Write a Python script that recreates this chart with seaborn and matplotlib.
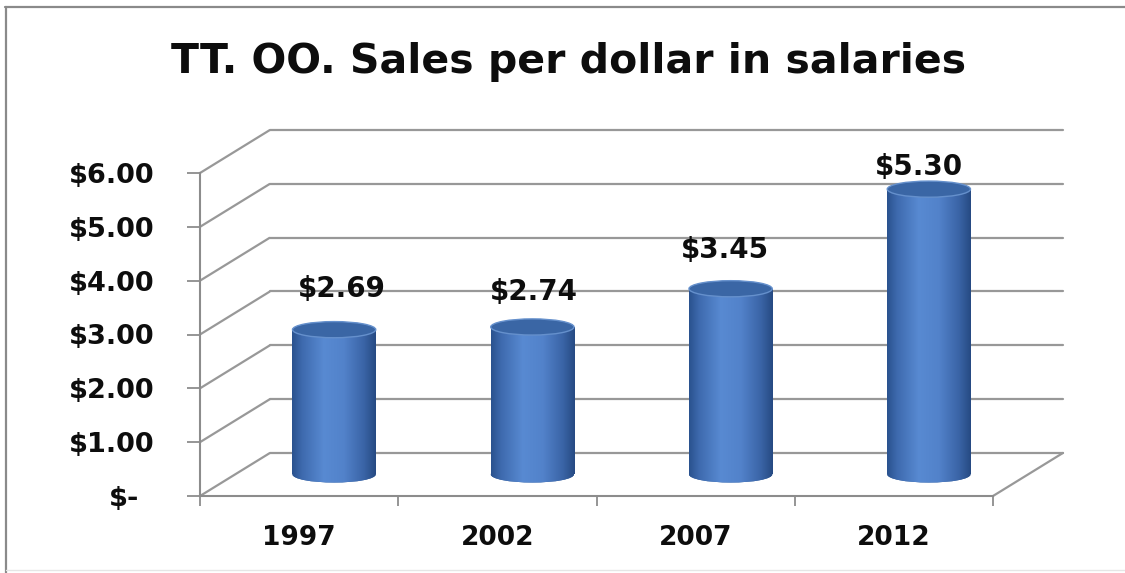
import numpy as np
import pandas as pd
import matplotlib
matplotlib.use("Agg")
import matplotlib.pyplot as plt
import matplotlib.transforms as mtransforms
from matplotlib.patches import Ellipse
from matplotlib.lines import Line2D
import seaborn as sns

# ---- data ----
years = ["1997", "2002", "2007", "2012"]
sales_per_dollar = [2.69, 2.74, 3.45, 5.30]
y_ticks = [0, 1, 2, 3, 4, 5, 6]
y_tick_labels = ["$-", "$1.00", "$2.00", "$3.00", "$4.00", "$5.00", "$6.00"]
title = "TT. OO. Sales per dollar in salaries"

# ---- style ----
sns.set_style("white")
plt.rcParams["font.family"] = ["DejaVu Sans"]
plt.rcParams["font.weight"] = "bold"
plt.rcParams["text.color"] = "#0d0d0d"
plt.rcParams["xtick.color"] = "#0d0d0d"
plt.rcParams["ytick.color"] = "#0d0d0d"

GRID = "#989898"
AXIS = "#8c8c8c"
W, H, DPI = 1125, 573, 100

fig = plt.figure(figsize=(W / DPI, H / DPI), dpi=DPI)
fig.patch.set_facecolor("white")
ax = fig.add_axes([200 / W, 77 / H, 793 / W, 323 / H])

df = pd.DataFrame({"year": years, "value": sales_per_dollar})
BAR_W = 0.42
sns.barplot(data=df, x="year", y="value", order=years, color="#3f6fb0",
            saturation=1, width=BAR_W, ax=ax, zorder=3)
bars = list(ax.patches)

X_LO, X_HI = -0.5, 3.5
Y_LO, Y_HI = y_ticks[0], y_ticks[-1]

# oblique depth of the 3-D box (in data units) and the plane holding the cylinders
DEPTH_X, DEPTH_Y = 0.353, 0.8
mid = mtransforms.Affine2D().translate(DEPTH_X / 2, DEPTH_Y / 2) + ax.transData
ELL_H = 0.30  # apparent height of the cylinder caps

# side wall, floor and back wall lines
for v in y_ticks:
    ax.plot([X_LO, X_LO + DEPTH_X], [v, v + DEPTH_Y], color=GRID, lw=1.6,
            clip_on=False, zorder=1, solid_capstyle="butt")
    ax.plot([X_LO + DEPTH_X, X_HI + DEPTH_X], [v + DEPTH_Y, v + DEPTH_Y],
            color=GRID, lw=1.6, clip_on=False, zorder=1)
ax.plot([X_HI, X_HI + DEPTH_X], [Y_LO, Y_LO + DEPTH_Y], color=GRID, lw=1.6,
        clip_on=False, zorder=1)

# cylinder shading across the width
stops = np.array([0.0, 0.12, 0.38, 0.62, 0.86, 1.0])
cols = np.array([[42, 82, 142], [62, 106, 174], [88, 138, 210],
                 [82, 130, 202], [58, 100, 166], [38, 74, 130]]) / 255.0
t = np.linspace(0, 1, 256)
grad = np.stack([np.interp(t, stops, cols[:, k]) for k in range(3)], axis=-1)[None, :, :]

for bar in bars:
    bar.set_transform(mid)
    bar.set_edgecolor("none")
    x0, w, h = bar.get_x(), bar.get_width(), bar.get_height()
    cx = x0 + w / 2
    base = Ellipse((cx, 0), w, ELL_H, transform=mid, facecolor="#2f5d9c",
                   edgecolor="none", zorder=3)
    ax.add_patch(base)
    for clip in (bar, base):
        im = ax.imshow(grad, extent=[x0, x0 + w, -ELL_H, h], transform=mid,
                       aspect="auto", interpolation="bilinear", zorder=3.1)
        im.set_clip_path(clip)
    cap = Ellipse((cx, h), w, ELL_H, transform=mid, facecolor="#3a66a5",
                  edgecolor="#6590cc", lw=1.0, zorder=3.5)
    ax.add_patch(cap)

# value labels above the cylinders (pixel shifts from the cap centre)
label_shift_px = [(8, 41), (2, 35), (-6, 39), (-10, 22)]
for bar, v, (sx, sy) in zip(bars, sales_per_dollar, label_shift_px):
    cx = bar.get_x() + bar.get_width() / 2
    tr = mid + mtransforms.ScaledTranslation(sx / DPI, sy / DPI, fig.dpi_scale_trans)
    ax.text(cx, v, f"${v:.2f}", transform=tr, ha="center", va="center",
            fontsize=20, fontweight="bold", zorder=5)

# axes
ax.set_xlim(X_LO, X_HI)
ax.set_ylim(Y_LO, Y_HI)
ax.set_xlabel("")
ax.set_ylabel("")
for side in ("top", "right"):
    ax.spines[side].set_visible(False)
for side in ("left", "bottom"):
    ax.spines[side].set_color(AXIS)
    ax.spines[side].set_linewidth(1.5)

ax.set_yticks(y_ticks)
ax.set_yticklabels(y_tick_labels)
ax.tick_params(axis="y", left=True, direction="out", length=9.5, width=1.3,
               color=AXIS, pad=23.5, labelsize=19.5)

ax.set_xticks(range(len(years)))
ax.set_xticklabels(years)
ax.set_xticks(np.arange(X_LO, X_HI + 0.01, 1.0), minor=True)
ax.tick_params(axis="x", which="major", bottom=True, length=0, pad=21, labelsize=19)
ax.tick_params(axis="x", which="minor", bottom=True, direction="out", length=7,
               width=1.3, color=AXIS)

# the "$-" label sits a little further left
zero_lbl = ax.get_yticklabels()[0]
zero_lbl.set_transform(zero_lbl.get_transform()
                       + mtransforms.ScaledTranslation(-15 / DPI, 0, fig.dpi_scale_trans))

fig.text(569 / W, (H - 73) / H, title, ha="center", va="baseline",
         fontsize=29.5, fontweight="bold")

# chart-area border
fig.add_artist(Line2D([6 / W, 6 / W], [0, (H - 7) / H], transform=fig.transFigure,
                      color="#8a8a8a", lw=1.6))
fig.add_artist(Line2D([5 / W, 1], [(H - 7) / H, (H - 7) / H], transform=fig.transFigure,
                      color="#8a8a8a", lw=1.6))
fig.add_artist(Line2D([6 / W, 1], [3 / H, 3 / H], transform=fig.transFigure,
                      color="#e6e6e6", lw=1.0))

fig.savefig("out.png", dpi=DPI)
